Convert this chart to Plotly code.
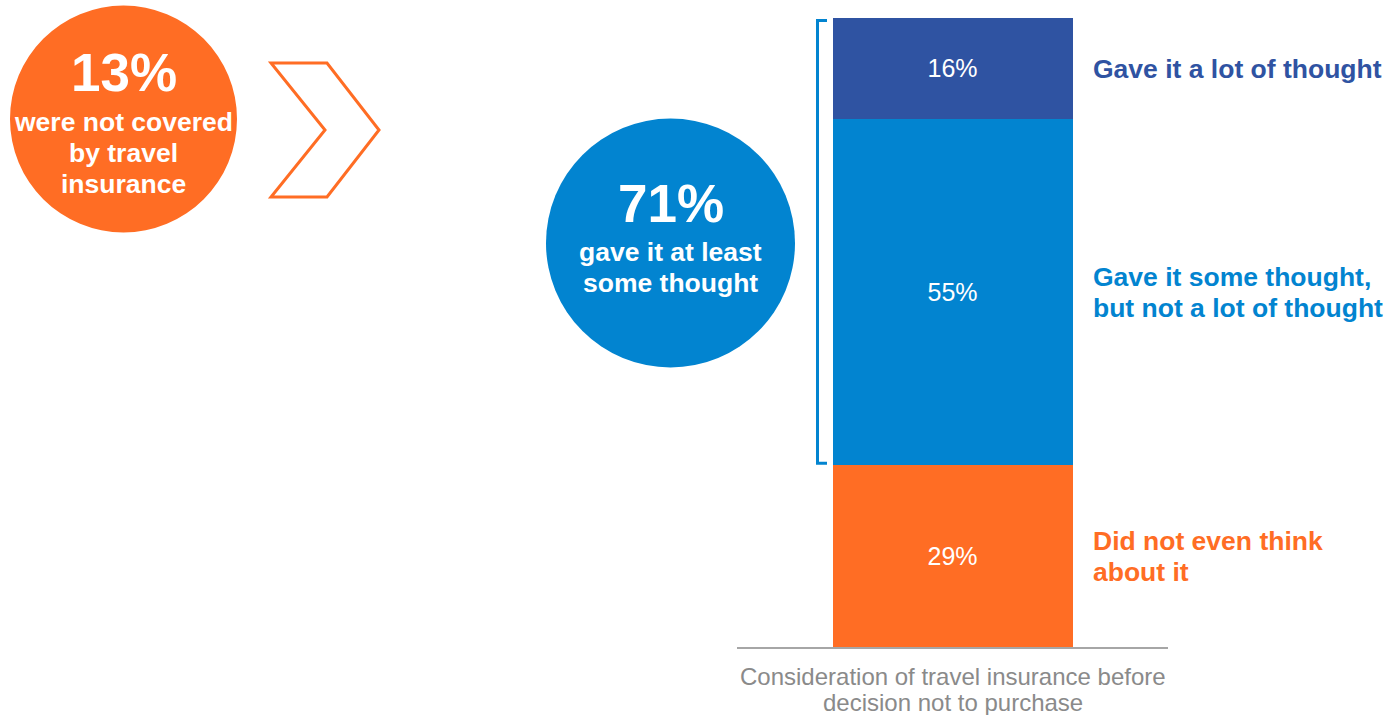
import plotly.graph_objects as go

# Survey data
category_lines = ["Consideration of travel insurance before", "decision not to purchase"]
category = [" ".join(category_lines)]
segments = ["Did not even think about it", "Gave it some thought, but not a lot of thought", "Gave it a lot of thought"]
values = [29, 55, 16]
side_labels = [["Did not even think", "about it"],
               ["Gave it some thought,", "but not a lot of thought"],
               ["Gave it a lot of thought"]]
colors = ["#FF6D24", "#0284D0", "#2F53A2"]
not_covered_pct = 13
some_thought_pct = values[1] + values[2]

W, H = 1385, 715
FONT = "Arial, Liberation Sans, sans-serif"
LINE = 31  # line spacing of the bold callout text, px


def px(x):
    return x / W


def py(y):
    return 1 - y / H


fig = go.Figure()
for name, v, c in zip(segments, values, colors):
    fig.add_trace(go.Bar(
        x=category, y=[v], name=name, marker=dict(color=c, line=dict(width=0)),
        text=[f"{v}%"], textposition="inside", insidetextanchor="middle",
        textfont=dict(color="white", size=25, family=FONT),
        hoverinfo="skip",
    ))

shapes = []
annotations = []


def paper_text(x, y, text, size, color, bold=True, anchor="center"):
    annotations.append(dict(xref="paper", yref="paper", x=px(x), y=py(y),
                            text=f"<b>{text}</b>" if bold else text, showarrow=False,
                            font=dict(size=size, color=color, family=FONT),
                            xanchor=anchor, yanchor="middle", borderpad=0))


# Orange circle on the left
cx, cy, r = 123.5, 119, 113.5
shapes.append(dict(type="circle", xref="paper", yref="paper",
                   x0=px(cx - r), x1=px(cx + r), y0=py(cy + r), y1=py(cy - r),
                   fillcolor="#FF6D24", line=dict(width=0), layer="below"))
paper_text(cx, 73, f"{not_covered_pct}%", 53, "white")
for i, t in enumerate(["were not covered", "by travel", "insurance"]):
    paper_text(cx, 122 + i * LINE, t, 26.5, "white")

# Chevron outline
chev = [(271, 63), (327, 63), (379, 130), (327, 197), (271, 197), (325, 130)]
path = "M " + " L ".join(f"{px(x):.5f},{py(y):.5f}" for x, y in chev) + " Z"
shapes.append(dict(type="path", xref="paper", yref="paper", path=path,
                   fillcolor="white", line=dict(color="#FF6D24", width=3)))

# Blue circle
bx, by, br = 670.5, 243, 124.5
shapes.append(dict(type="circle", xref="paper", yref="paper",
                   x0=px(bx - br), x1=px(bx + br), y0=py(by + br), y1=py(by - br),
                   fillcolor="#0284D0", line=dict(width=0), layer="below"))
paper_text(bx, 204, f"{some_thought_pct}%", 53, "white")
for i, t in enumerate(["gave it at least", "some thought"]):
    paper_text(bx, 252 + i * LINE, t, 26.5, "white")

# Bracket spanning the two "thought" segments
b_lo, b_hi = values[0], values[0] + values[1] + values[2]
xl, xr = px(817.5), px(827)
shapes.append(dict(type="path", xref="paper", yref="y",
                   path=f"M {xr:.5f},{b_hi - 0.4} L {xl:.5f},{b_hi - 0.4} L {xl:.5f},{b_lo + 0.2} L {xr:.5f},{b_lo + 0.2}",
                   line=dict(color="#0284D0", width=3)))

# Segment labels to the right of the bar, one annotation per line
cum = 0
for v, lines, c in zip(values, side_labels, colors):
    mid = cum + v / 2
    cum += v
    n = len(lines)
    for i, t in enumerate(lines):
        shift = ((n - 1) / 2 - i) * LINE - 1
        annotations.append(dict(xref="paper", yref="y", x=px(1091), y=mid, yshift=shift,
                                text=f"<b>{t}</b>", showarrow=False, align="left",
                                font=dict(size=26.5, color=c, family=FONT),
                                xanchor="left", yanchor="middle"))

# Category caption below the axis line
for i, t in enumerate(category_lines):
    paper_text(953, 676 + i * 26, t, 24, "#8A8A8A", bold=False)

fig.update_layout(
    width=W, height=H,
    margin=dict(l=0, r=0, t=0, b=0),
    paper_bgcolor="white", plot_bgcolor="white",
    barmode="stack", bargap=1 - 240 / 431,
    showlegend=False,
    shapes=shapes, annotations=annotations,
    xaxis=dict(domain=[px(737), px(1168)], showgrid=False, zeroline=False,
               showline=True, linecolor="#A6A6A6", linewidth=2,
               ticks="", showticklabels=False, fixedrange=True),
    yaxis=dict(domain=[py(647), py(18)], range=[0, 100], visible=False,
               fixedrange=True),
    font=dict(family=FONT),
)

fig.write_html("out.html")
